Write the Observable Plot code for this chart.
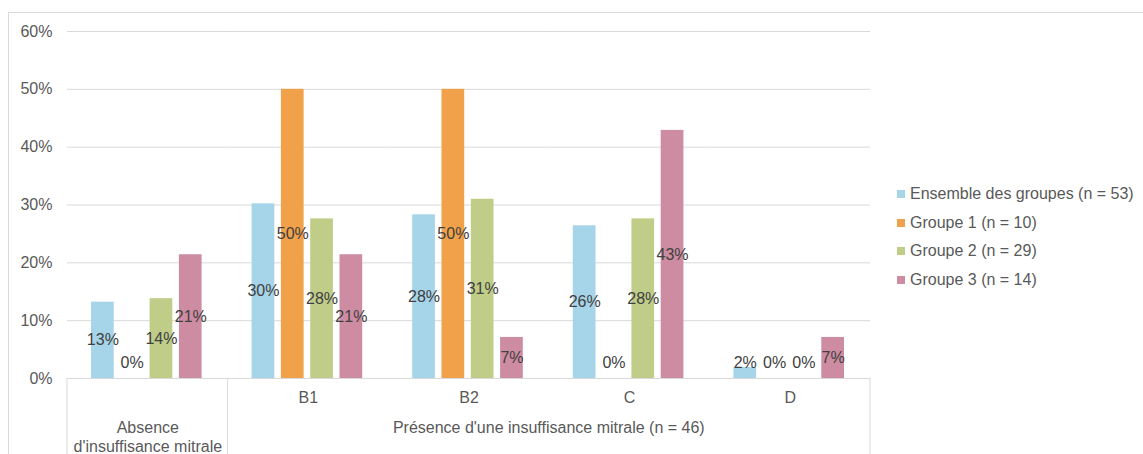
<!DOCTYPE html>
<html><head><meta charset="utf-8">
<script src="https://cdn.jsdelivr.net/npm/d3@7"></script>
<script src="https://cdn.jsdelivr.net/npm/@observablehq/plot@0.6"></script>
<style>
html,body{margin:0;padding:0;background:#fff;overflow:hidden;width:1143px;height:454px}
#wrap{position:relative;width:1143px;height:454px}
#wrap svg{position:absolute;left:0;top:0}
#frame{position:absolute;left:8px;top:12px;width:1200px;height:500px;border-top:1px solid #d9d9d9;border-left:1px solid #d9d9d9;pointer-events:none}
#legend{position:absolute;left:897px;top:179.5px;font-family:"Liberation Sans",Arial,sans-serif;font-size:16px;color:#595959}
.row{height:28.7px;display:flex;align-items:center;white-space:nowrap}
.sw{width:8px;height:8px;margin-right:5px;flex:none}
</style></head><body><div id="wrap"></div>
<script>
// ---- data ----
const categories = ["Absence\nd'insuffisance mitrale", "B1", "B2", "C", "D"];
const series = ["Ensemble des groupes (n = 53)", "Groupe 1 (n = 10)", "Groupe 2 (n = 29)", "Groupe 3 (n = 14)"];
const colors = ["#a6d4e8", "#f1a149", "#bfcd89", "#ce8ca2"];
const ensemble = [0.132, 0.302, 0.283, 0.264, 0.019];
const groupe1  = [0.000, 0.500, 0.500, 0.000, 0.000];
const groupe2  = [0.138, 0.276, 0.310, 0.276, 0.000];
const groupe3  = [0.214, 0.214, 0.071, 0.429, 0.071];
const yTicks = [0, 0.1, 0.2, 0.3, 0.4, 0.5, 0.6];
const groupLabel = "Présence d'une insuffisance mitrale (n = 46)";
const groupSpan = ["B1", "D"];

const valuesBySeries = [ensemble, groupe1, groupe2, groupe3];
const data = [];
categories.forEach((c, ci) => series.forEach((s, si) => data.push({cat: c, series: s, value: valuesBySeries[si][ci]})));

const W = 1143, H = 454;
const minLabel = 0.6 * 16 / 347; // keep small-value labels just above the baseline
const pct = d3.format(".0%");

const plot = Plot.plot({
  width: W, height: H,
  marginLeft: 67, marginRight: 273, marginTop: 31, marginBottom: 76,
  style: {fontFamily: "'Liberation Sans', Arial, sans-serif", fontSize: "16px", color: "#595959", background: "transparent"},
  fx: {domain: categories, padding: 0, round: false, axis: null},
  x: {domain: series, paddingInner: 0.225, paddingOuter: 0.853, align: 0.48, round: false, axis: null},
  y: {domain: [0, 0.6], axis: null},
  color: {domain: series, range: colors},
  marks: [
    Plot.gridY(yTicks, {stroke: "#d9d9d9", strokeOpacity: 1}),
    Plot.axisY(yTicks, {tickFormat: pct, tickSize: 0, tickPadding: 15, fill: "#595959", label: null}),
    Plot.barY(data, {fx: "cat", x: "series", y: "value", fill: "series"}),
    Plot.text(data, {fx: "cat", x: "series", y: d => Math.max(d.value / 2, minLabel), text: d => pct(d.value), fill: "#404040", fontSize: 16}),
    Plot.text(categories.slice(1), {fx: d => d, text: d => d, frameAnchor: "bottom", dy: 19, lineAnchor: "middle", fill: "#595959"}),
    Plot.text(categories.slice(0, 1), {fx: d => d, text: d => d, frameAnchor: "bottom", dy: 58, lineAnchor: "middle", lineHeight: 1.19, fill: "#595959"})
  ]
});

const wrap = document.getElementById("wrap");
wrap.appendChild(plot);

// separators and group label, positioned with the plot's own scales
const fx = plot.scale("fx"), y = plot.scale("y");
const bw = fx.bandwidth;
const y0 = y.apply(0);
const svg = d3.select(plot);
const g = svg.append("g");
const sepX = [fx.apply(categories[0]), fx.apply(groupSpan[0]), fx.apply(groupSpan[1]) + bw];
g.append("line").attr("x1", fx.apply(categories[0])).attr("x2", fx.apply(groupSpan[1]) + bw)
  .attr("y1", y0 + 0.5).attr("y2", y0 + 0.5).attr("stroke", "#d9d9d9");
sepX.forEach(x => g.append("line").attr("x1", x).attr("x2", x).attr("y1", y0).attr("y2", H).attr("stroke", "#d9d9d9"));
g.append("text").attr("x", (fx.apply(groupSpan[0]) + fx.apply(groupSpan[1]) + bw) / 2).attr("y", y0 + 49)
  .attr("dy", "0.35em").attr("text-anchor", "middle").attr("fill", "#595959").text(groupLabel);

const frame = document.createElement("div"); frame.id = "frame"; wrap.appendChild(frame);

// legend
const legend = document.createElement("div"); legend.id = "legend";
series.forEach((s, i) => {
  const row = document.createElement("div"); row.className = "row";
  const sw = document.createElement("span"); sw.className = "sw"; sw.style.background = colors[i];
  const t = document.createElement("span"); t.textContent = s;
  row.appendChild(sw); row.appendChild(t); legend.appendChild(row);
});
wrap.appendChild(legend);
</script>
</body></html>
